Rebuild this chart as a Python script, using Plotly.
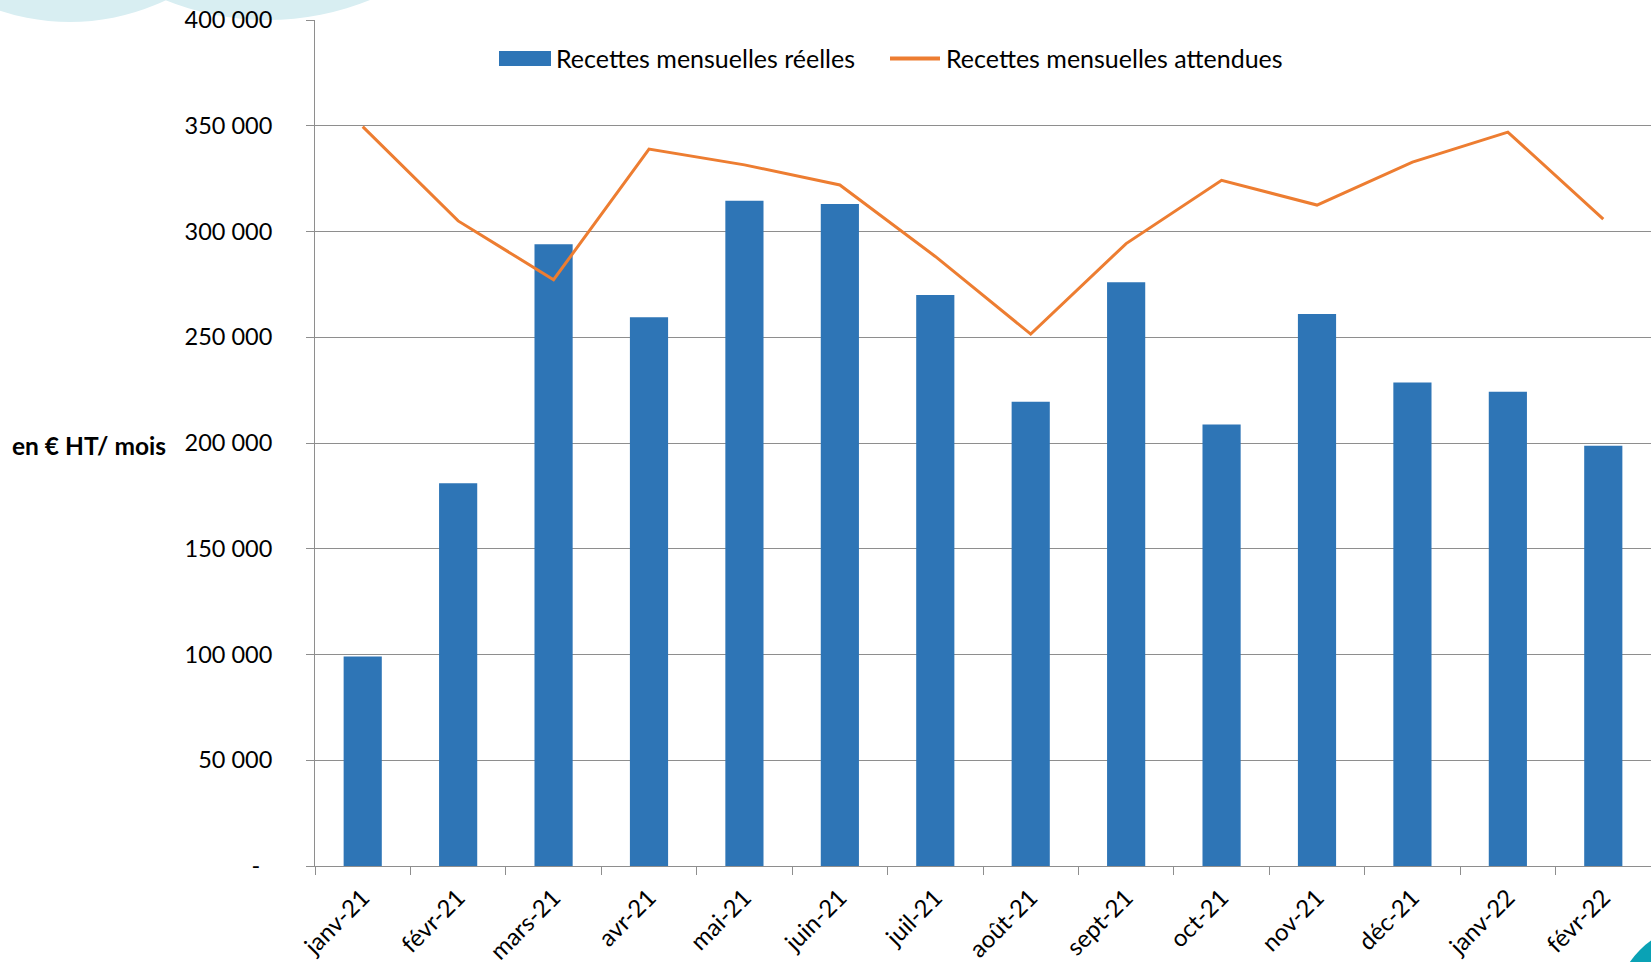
import plotly.graph_objects as go

months = ["janv-21", "févr-21", "mars-21", "avr-21", "mai-21", "juin-21", "juil-21",
          "août-21", "sept-21", "oct-21", "nov-21", "déc-21", "janv-22", "févr-22"]
reelles = [99000, 181000, 294000, 259500, 314500, 313000, 270000,
           219500, 276000, 208700, 261000, 228600, 224200, 198700]
attendues = [349600, 305000, 277200, 339000, 331500, 322000, 288200,
             251500, 294300, 324200, 312500, 332800, 347000, 305800]
y_ticks = [0, 50000, 100000, 150000, 200000, 250000, 300000, 350000, 400000]
y_ticktext = ["-\u00a0\u00a0", "50 000", "100 000", "150 000", "200 000",
              "250 000", "300 000", "350 000", "400 000"]
legend_labels = ["Recettes mensuelles réelles", "Recettes mensuelles attendues"]
y_title = "en € HT/ mois"

BAR = "#2e75b6"
LINE = "#ed7d31"
GRID = "#8e8e8e"
FONT = "Lato"
W, H = 1651, 962
L, R, T, B = 315, 0, 20, 96

def px(x):
    return (x - L) / (W - L - R)

def py(y):
    return (H - B - y) / (H - T - B)

fig = go.Figure()
fig.add_trace(go.Bar(x=months, y=reelles, marker=dict(color=BAR, line=dict(width=0)),
                     name=legend_labels[0], showlegend=False))
fig.add_trace(go.Scatter(x=months, y=attendues, mode="lines", line=dict(color=LINE, width=3),
                         name=legend_labels[1], showlegend=False))

shapes = [
    # decorative background circles
    dict(type="circle", xref="paper", yref="paper", layer="below",
         x0=px(70 - 222), x1=px(70 + 222), y0=py(-200 + 222), y1=py(-200 - 222),
         fillcolor="#d8eef2", line=dict(width=0)),
    dict(type="circle", xref="paper", yref="paper", layer="below",
         x0=px(267.5 - 272.7), x1=px(267.5 + 272.7), y0=py(-252.7 + 272.7), y1=py(-252.7 - 272.7),
         fillcolor="#d8eef2", line=dict(width=0)),
    dict(type="circle", xref="paper", yref="paper", layer="above",
         x0=px(1700 - 85), x1=px(1700 + 85), y0=py(1010 + 85), y1=py(1010 - 85),
         fillcolor="#0aa2b5", line=dict(width=0)),
    # custom legend symbols
    dict(type="rect", xref="paper", yref="paper",
         x0=px(499), x1=px(551), y0=py(66), y1=py(51),
         fillcolor=BAR, line=dict(width=0)),
    dict(type="line", xref="paper", yref="paper",
         x0=px(890), x1=px(940), y0=py(58.5), y1=py(58.5),
         line=dict(color=LINE, width=4)),
]

annotations = [
    dict(text=legend_labels[0], xref="paper", yref="paper", x=px(554), y=py(58.5),
         xanchor="left", yanchor="middle", showarrow=False,
         font=dict(family=FONT, size=25, color="#000000")),
    dict(text=legend_labels[1], xref="paper", yref="paper", x=px(944), y=py(58.5),
         xanchor="left", yanchor="middle", showarrow=False,
         font=dict(family=FONT, size=25, color="#000000")),
    dict(text="<b>" + y_title + "</b>", xref="paper", yref="paper", x=px(10), y=py(445),
         xanchor="left", yanchor="middle", showarrow=False,
         font=dict(family=FONT, size=24.5, color="#000000")),
]

fig.update_layout(
    width=W, height=H, autosize=False,
    margin=dict(l=L, r=R, t=T, b=B),
    paper_bgcolor="white", plot_bgcolor="rgba(0,0,0,0)",
    bargap=0.6,
    showlegend=False,
    shapes=shapes,
    annotations=annotations,
    font=dict(family=FONT, size=23, color="#000000"),
    xaxis=dict(
        type="category", showline=True, linecolor=GRID, linewidth=1,
        ticks="outside", ticklen=8, tickcolor=GRID, tickwidth=1, tickson="boundaries",
        tickangle=-45, showgrid=False, tickfont=dict(family=FONT, size=24),
        ticklabelstandoff=7, automargin=False,
    ),
    yaxis=dict(
        range=[0, 400000], tickvals=y_ticks, ticktext=y_ticktext,
        showline=True, linecolor=GRID, linewidth=1,
        ticks="outside", ticklen=8, tickcolor=GRID, tickwidth=1,
        showgrid=True, gridcolor=GRID, gridwidth=1, zeroline=False,
        ticklabelstandoff=29, tickfont=dict(family=FONT, size=23.5),
        automargin=False,
    ),
)

fig.write_html("out.html", config={"displayModeBar": False},
               post_script="document.body.style.margin='0';document.body.style.overflow='hidden';")
